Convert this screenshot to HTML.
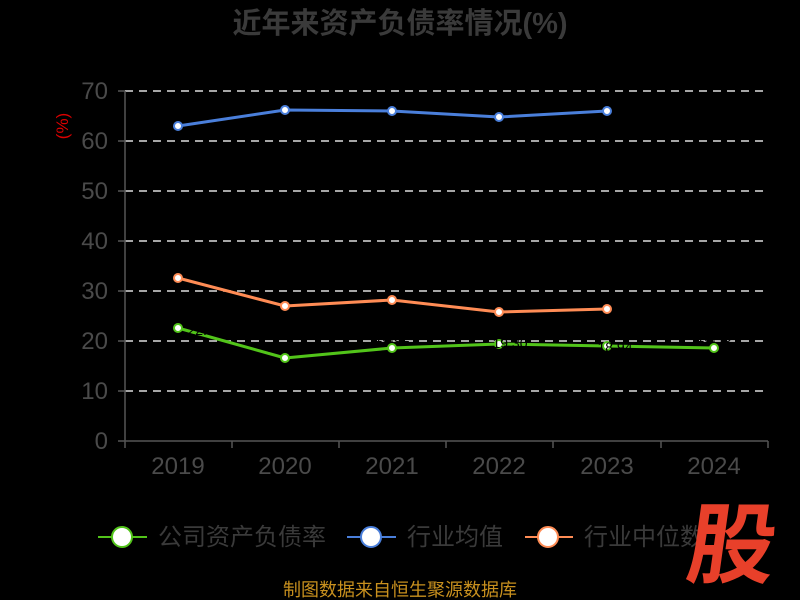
<!DOCTYPE html>
<html><head><meta charset="utf-8"><style>body{margin:0;background:#000}svg{display:block}</style></head><body>
<svg width="800" height="600" xmlns="http://www.w3.org/2000/svg" font-family="Liberation Sans, Noto Sans CJK SC, sans-serif">
<rect width="800" height="600" fill="#000"/>
<text x="400" y="33" text-anchor="middle" font-size="29" font-weight="bold" fill="#3a3a3a">近年来资产负债率情况(%)</text>
<g stroke="#ddd" stroke-width="1.5" stroke-dasharray="8,6">
<line x1="125" x2="768" y1="91" y2="91"/><line x1="125" x2="768" y1="141" y2="141"/><line x1="125" x2="768" y1="191" y2="191"/><line x1="125" x2="768" y1="241" y2="241"/><line x1="125" x2="768" y1="291" y2="291"/><line x1="125" x2="768" y1="341" y2="341"/><line x1="125" x2="768" y1="391" y2="391"/>
</g>
<g stroke="#555" stroke-width="1.5">
<line x1="125" y1="91" x2="125" y2="441"/><line x1="125" y1="441" x2="768" y2="441"/>
<line x1="118" x2="125" y1="91" y2="91"/><line x1="118" x2="125" y1="141" y2="141"/><line x1="118" x2="125" y1="191" y2="191"/><line x1="118" x2="125" y1="241" y2="241"/><line x1="118" x2="125" y1="291" y2="291"/><line x1="118" x2="125" y1="341" y2="341"/><line x1="118" x2="125" y1="391" y2="391"/><line x1="118" x2="125" y1="441" y2="441"/>
<line x1="125" x2="125" y1="441" y2="448"/><line x1="232" x2="232" y1="441" y2="448"/><line x1="339" x2="339" y1="441" y2="448"/><line x1="446" x2="446" y1="441" y2="448"/><line x1="553" x2="553" y1="441" y2="448"/><line x1="661" x2="661" y1="441" y2="448"/><line x1="768" x2="768" y1="441" y2="448"/>
</g>
<g font-size="24" fill="#4a4a4a" text-anchor="end">
<text x="108" y="99">70</text><text x="108" y="149">60</text><text x="108" y="199">50</text><text x="108" y="249">40</text><text x="108" y="299">30</text><text x="108" y="349">20</text><text x="108" y="399">10</text><text x="108" y="449">0</text>
</g>
<g font-size="24" fill="#4a4a4a" text-anchor="middle">
<text x="178" y="474">2019</text><text x="285" y="474">2020</text><text x="392" y="474">2021</text><text x="499" y="474">2022</text><text x="607" y="474">2023</text><text x="714" y="474">2024</text>
</g>
<text transform="translate(68,126) rotate(-90)" font-size="17" fill="#d00" text-anchor="middle">(%)</text>
<g fill="none" stroke-width="3" stroke-linejoin="round">
<polyline stroke="#4a7fdb" points="178,126 285,110 392,111 499,117 607,111"/>
<polyline stroke="#ff8c55" points="178,278 285,306 392,300 499,312 607,309"/>
<polyline stroke="#52c41a" points="178,328 285,358 392,348 499,344 607,346 714,348"/>
</g>
<g fill="#fff" stroke-width="2">
<g stroke="#4a7fdb"><circle cx="178" cy="126" r="4"/><circle cx="285" cy="110" r="4"/><circle cx="392" cy="111" r="4"/><circle cx="499" cy="117" r="4"/><circle cx="607" cy="111" r="4"/></g>
<g stroke="#ff8c55"><circle cx="178" cy="278" r="4"/><circle cx="285" cy="306" r="4"/><circle cx="392" cy="300" r="4"/><circle cx="499" cy="312" r="4"/><circle cx="607" cy="309" r="4"/></g>
<g stroke="#52c41a"><circle cx="178" cy="328" r="4"/><circle cx="285" cy="358" r="4"/><circle cx="392" cy="348" r="4"/><circle cx="499" cy="344" r="4"/><circle cx="607" cy="346" r="4"/><circle cx="714" cy="348" r="4"/></g>
</g>
<g font-size="14" fill="#000" text-anchor="middle">
<text x="205" y="335">22.36</text><text x="285" y="352">16.46</text><text x="392" y="342">18.52</text><text x="510" y="348">19.30</text><text x="615" y="352">18.94</text><text x="714" y="342">18.40</text>
</g>
<g stroke-width="2">
<line x1="98" x2="147" y1="537" y2="537" stroke="#52c41a"/><circle cx="122" cy="537" r="10" fill="#fff" stroke="#52c41a"/>
<line x1="347" x2="396" y1="537" y2="537" stroke="#4a7fdb"/><circle cx="371" cy="537" r="10" fill="#fff" stroke="#4a7fdb"/>
<line x1="525" x2="573" y1="537" y2="537" stroke="#ff8c55"/><circle cx="548" cy="537" r="10" fill="#fff" stroke="#ff8c55"/>
</g>
<g font-size="24" fill="#3a3a3a">
<text x="158" y="545">公司资产负债率</text><text x="407" y="545">行业均值</text><text x="584" y="545">行业中位数</text>
</g>
<text x="734" y="576" text-anchor="middle" font-size="88" font-weight="bold" fill="#e8402a" font-family="Noto Sans CJK SC, sans-serif" transform="skewX(-8) translate(75,0)">股</text>
<text x="400" y="596" text-anchor="middle" font-size="18" fill="#c8901e">制图数据来自恒生聚源数据库</text>
</svg>
</body></html>
